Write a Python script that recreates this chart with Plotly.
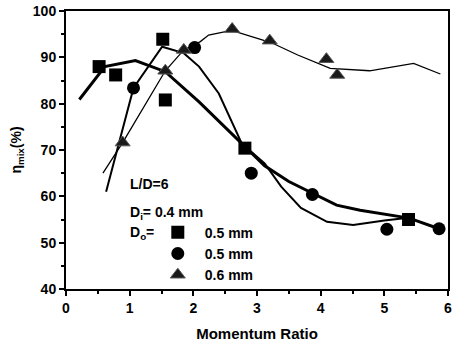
import plotly.graph_objects as go

# Measured points
sq_x = [0.52, 0.78, 1.52, 1.56, 2.81, 5.38]
sq_y = [88.0, 86.2, 93.9, 80.8, 70.4, 55.0]
ci_x = [1.06, 2.02, 2.91, 3.87, 5.04, 5.86]
ci_y = [83.4, 92.1, 65.0, 60.4, 52.9, 53.0]
tr_x = [0.89, 1.56, 1.85, 2.61, 3.20, 4.09, 4.26]
tr_y = [71.6, 87.1, 91.6, 96.1, 93.6, 89.6, 86.2]

# Fitted curves
fitA_x = [0.21, 0.61, 1.09, 1.56, 2.09, 2.81, 3.12, 3.50, 3.87, 4.25, 4.62, 5.00, 5.39, 5.86]
fitA_y = [80.9, 88.0, 89.3, 86.9, 80.4, 70.6, 66.6, 63.2, 60.6, 58.1, 57.0, 56.2, 55.3, 53.0]
fitB_x = [0.63, 1.06, 1.51, 1.85, 2.09, 2.40, 2.76, 3.12, 3.38, 3.69, 4.10, 4.51, 5.00, 5.38]
fitB_y = [61.0, 83.4, 92.3, 90.9, 88.0, 82.2, 71.4, 67.1, 62.1, 57.5, 54.5, 53.8, 54.8, 55.4]
fitC_x = [0.58, 0.89, 1.56, 1.85, 2.11, 2.24, 2.60, 3.22, 3.64, 4.15, 4.77, 5.46, 5.88]
fitC_y = [65.0, 71.6, 87.1, 91.6, 93.4, 94.8, 95.8, 93.2, 90.5, 87.6, 87.1, 88.7, 86.4]

FONT = "Liberation Sans, Arial, sans-serif"

fig = go.Figure()
fig.add_trace(go.Scatter(x=fitA_x, y=fitA_y, mode="lines", line=dict(color="black", width=3), showlegend=False))
fig.add_trace(go.Scatter(x=fitB_x, y=fitB_y, mode="lines", line=dict(color="black", width=2), showlegend=False))
fig.add_trace(go.Scatter(x=fitC_x, y=fitC_y, mode="lines", line=dict(color="black", width=1.3), showlegend=False))

fig.add_trace(go.Scatter(x=sq_x, y=sq_y, mode="markers", name="0.5 mm",
                         marker=dict(symbol="square", size=13, color="black")))
fig.add_trace(go.Scatter(x=ci_x, y=ci_y, mode="markers", name="0.5 mm ",
                         marker=dict(symbol="circle", size=13, color="black")))
fig.add_trace(go.Scatter(x=tr_x, y=tr_y, mode="markers", name="0.6 mm",
                         marker=dict(symbol="triangle-up", size=13, color="#1a1a1a",
                                     line=dict(color="#555555", width=1))))

ann_font = dict(family=FONT, size=14, color="black", weight="bold")
fig.add_annotation(x=0.163, y=0.376, xref="paper", yref="paper", xanchor="left", yanchor="middle",
                   text="L/D=6", showarrow=False, font=ann_font)
fig.add_annotation(x=0.163, y=0.272, xref="paper", yref="paper", xanchor="left", yanchor="middle",
                   text="D<sub>i</sub>= 0.4 mm", showarrow=False, font=ann_font)
fig.add_annotation(x=0.163, y=0.200, xref="paper", yref="paper", xanchor="left", yanchor="middle",
                   text="D<sub>o</sub>=", showarrow=False, font=ann_font)

axis_common = dict(
    showline=True, linecolor="black", linewidth=2, mirror=True,
    ticks="outside", ticklen=5, tickwidth=2, tickcolor="black",
    showgrid=False, zeroline=False, ticklabeloverflow="allow",
    tickfont=dict(family=FONT, size=14, color="black", weight="bold"),
)

fig.update_xaxes(range=[0, 6], dtick=1, tick0=0,
                 minor=dict(dtick=0.5, ticks="outside", ticklen=3, tickwidth=2, tickcolor="black"),
                 title=dict(text="Momentum Ratio", standoff=14,
                            font=dict(family=FONT, size=15, color="black", weight="bold")),
                 **axis_common)
fig.update_yaxes(range=[40, 100], dtick=10, tick0=40,
                 minor=dict(dtick=5, ticks="outside", ticklen=3, tickwidth=2, tickcolor="black"),
                 title=dict(text="η<sub>mix</sub>(%)", standoff=8,
                            font=dict(family=FONT, size=14, color="black", weight="bold")),
                 **axis_common)

fig.update_layout(
    width=454, height=342,
    margin=dict(l=66, r=2, t=11, b=52),
    paper_bgcolor="white", plot_bgcolor="white",
    legend=dict(x=0.222, y=0.26, xanchor="left", yanchor="top", itemwidth=44,
                bgcolor="rgba(0,0,0,0)", borderwidth=0, tracegroupgap=0,
                font=dict(family=FONT, size=14, color="black", weight="bold")),
)

fig.write_html("out.html", config={"displayModeBar": False},
               post_script="document.body.style.margin='0';")
